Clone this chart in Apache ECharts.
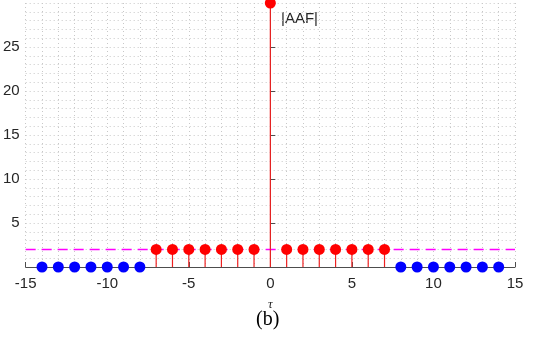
<!DOCTYPE html>
<html><head><meta charset="utf-8">
<script src="https://cdn.jsdelivr.net/npm/echarts@6/dist/echarts.min.js"></script>
<style>html,body{margin:0;padding:0;background:#fff}#c{width:535px;height:343px}</style>
</head><body><div id="c"></div>
<script>
const tauRed = [-7,-6,-5,-4,-3,-2,-1,0,1,2,3,4,5,6,7];
const aafRed = [2,2,2,2,2,2,2,30,2,2,2,2,2,2,2];
const tauBlue = [-14,-13,-12,-11,-10,-9,-8,8,9,10,11,12,13,14];
const aafBlue = [0,0,0,0,0,0,0,0,0,0,0,0,0,0];
const thresholdX = [-15, 15];
const thresholdY = [2, 2];
const xTicks = [-15,-10,-5,0,5,10,15];
const yTicks = [5,10,15,20,25];

const chart = echarts.init(document.getElementById('c'), null, {renderer:'canvas'});
const redPts = tauRed.map((t,i)=>[t,aafRed[i]]);
const bluePts = tauBlue.map((t,i)=>[t,aafBlue[i]]);
const gridLine = {show:true, lineStyle:{color:'#c8c8c8', type:[1,3], width:1}};
chart.setOption({
  animation:false,
  grid:{left:24, right:20, top:3, bottom:76},
  xAxis:{type:'value', min:-15, max:15, interval:5,
    axisLine:{show:true, onZero:true, lineStyle:{color:'#4d4d4d', width:1}},
    axisTick:{show:true, inside:true, length:5, lineStyle:{color:'#4d4d4d'}},
    axisLabel:{margin:9, fontSize:15, color:'#262626', fontFamily:'Liberation Sans, Arial',
      formatter:v=>xTicks.includes(v)?String(v):''},
    splitLine:gridLine, minorTick:{show:false, splitNumber:5}, minorSplitLine:gridLine,
    name:'τ', nameLocation:'middle', nameGap:31,
    nameTextStyle:{fontFamily:'Liberation Serif, Times New Roman', fontStyle:'italic', fontSize:13, color:'#262626'}
  },
  yAxis:{type:'value', min:0, max:30, interval:5,
    axisLine:{show:true, onZero:true, lineStyle:{color:'#4d4d4d', width:1}},
    axisTick:{show:true, inside:true, length:5, lineStyle:{color:'#4d4d4d'}},
    axisLabel:{margin:6, fontSize:15, color:'#262626', fontFamily:'Liberation Sans, Arial',
      formatter:v=>yTicks.includes(v)?String(v):''},
    splitLine:gridLine, minorTick:{show:false, splitNumber:5}, minorSplitLine:gridLine
  },
  graphic:[
    {type:'text', left:281, top:11, style:{text:'|AAF|', font:'15px "Liberation Sans", Arial', fill:'#262626'}},
    {type:'text', left:256, top:310, style:{text:'(b)', font:'20px "Liberation Serif", "Times New Roman"', fill:'#000'}}
  ],
  series:[
    {type:'line', data:thresholdX.map((x,i)=>[x,thresholdY[i]]), symbol:'none', z:3,
      lineStyle:{color:'#ff00ff', width:1.5, type:[10,6]}},
    {type:'custom', data:redPts, z:4,
      renderItem:(params, api)=>{
        const p0 = api.coord([api.value(0), 0]);
        const p1 = api.coord([api.value(0), api.value(1)]);
        return {type:'line', shape:{x1:p0[0], y1:p0[1], x2:p1[0], y2:p1[1]},
          style:{stroke:'#ee2020', lineWidth:1.2}};
      }},
    {type:'scatter', data:redPts, symbolSize:11, z:5, itemStyle:{color:'#ff0000', opacity:1}},
    {type:'scatter', data:bluePts, symbolSize:11, z:5, itemStyle:{color:'#0000ff', opacity:1}}
  ]
});
</script></body></html>
